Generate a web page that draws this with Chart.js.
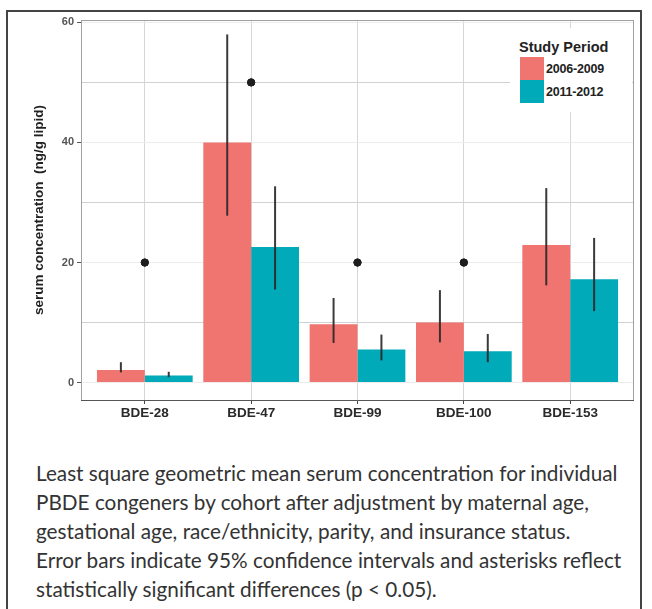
<!DOCTYPE html>
<html><head><meta charset="utf-8">
<script src="https://cdn.jsdelivr.net/npm/chart.js@4.4.1/dist/chart.umd.min.js"></script>
<style>
html,body{margin:0;padding:0;background:#fff;}
body{width:652px;height:609px;position:relative;overflow:hidden;}
#frame{position:absolute;left:6px;top:10px;width:636px;height:620px;border-top:2px solid #444;border-left:2px solid #444;border-right:2px solid #444;box-sizing:border-box;}
#wrap{position:absolute;left:0;top:0;width:652px;height:430px;}
#legend{position:absolute;left:510px;top:28px;width:122px;height:84px;background:#fff;font-family:"Liberation Sans",Arial,sans-serif;font-weight:bold;color:#222;}
#legend .t{position:absolute;left:9px;top:11px;font-size:14.5px;line-height:16px;white-space:nowrap;}
#legend .sw{position:absolute;left:10px;width:24px;height:23px;}
#legend .lb{position:absolute;left:36px;font-size:12.5px;line-height:14px;white-space:nowrap;letter-spacing:-0.2px;}
#caption{position:absolute;left:36px;top:459px;font-family:Lato,"Open Sans",sans-serif;color:#333;font-size:19px;line-height:29px;white-space:nowrap;}
</style></head>
<body>
<div id="frame"></div>
<div id="wrap"><canvas id="c"></canvas></div>
<div id="legend"></div>
<div id="caption"></div>
<script>
const categories = ['BDE-28','BDE-47','BDE-99','BDE-100','BDE-153'];
const seriesNames = ['2006-2009','2011-2012'];
const mean0609 = [2.1, 40.0, 9.7, 10.0, 22.9];
const lo0609   = [1.7, 27.8, 6.6, 6.7, 16.2];
const hi0609   = [3.4, 58.0, 14.1, 15.4, 32.4];
const mean1112 = [1.2, 22.6, 5.5, 5.2, 17.2];
const lo1112   = [0.9, 15.5, 3.7, 3.4, 11.9];
const hi1112   = [1.8, 32.7, 8.0, 8.1, 24.1];
const sigMarks = [20, 50, 20, 20, null];
const yTicks = [0, 10, 20, 30, 40, 50, 60];
const yLabelTicks = [0, 20, 40, 60];
const legendTitle = 'Study Period';
const yTitle = 'serum concentration  (ng/g lipid)';
const captionLines = [
 'Least square geometric mean serum concentration for individual',
 'PBDE congeners by cohort after adjustment by maternal age,',
 'gestational age, race/ethnicity, parity, and insurance status.',
 'Error bars indicate 95% confidence intervals and asterisks reflect',
 'statistically significant differences (p < 0.05).'
];
const colors = ['#F07571', '#00AAB8'];

// legend
const lg = document.getElementById('legend');
lg.innerHTML = '<div class="t">'+legendTitle+'</div>' +
  seriesNames.map((n,i)=>'<div class="sw" style="top:'+(29+i*23)+'px;background:'+colors[i]+'"></div>'+
  '<div class="lb" style="top:'+(34+i*23)+'px">'+n+'</div>').join('');

// caption
const cap = document.getElementById('caption');
cap.innerHTML = captionLines.map(l=>l.replace(/&/g,'&amp;').replace(/</g,'&lt;')).join('<br>');
(function(){
  const m = document.createElement('canvas').getContext('2d');
  m.font = '19px Lato';
  const w = m.measureText(captionLines[0]).width;
  if (w > 0) cap.style.fontSize = (19 * 582 / w).toFixed(2) + 'px';
})();

const errorBars = {
  id: 'errorBars',
  afterDatasetsDraw(chart){
    const ctx = chart.ctx, y = chart.scales.y;
    [[0, lo0609, hi0609], [1, lo1112, hi1112]].forEach(([di, lo, hi]) => {
      chart.getDatasetMeta(di).data.forEach((bar, i) => {
        ctx.save();
        ctx.strokeStyle = 'rgba(45,40,40,0.92)';
        ctx.lineWidth = 2;
        ctx.beginPath();
        ctx.moveTo(bar.x, y.getPixelForValue(lo[i]));
        ctx.lineTo(bar.x, y.getPixelForValue(hi[i]));
        ctx.stroke();
        ctx.restore();
      });
    });
    const meta = chart.getDatasetMeta(2);
    meta.data.forEach(p => { if (!p.skip) p.draw(ctx); });
  }
};
const panel = {
  id: 'panel',
  afterDraw(chart){
    const {ctx, chartArea: a} = chart;
    ctx.save();
    ctx.strokeStyle = '#a0a0a0'; ctx.lineWidth = 1;
    ctx.strokeRect(a.left + 0.5, a.top + 0.5, a.right - a.left - 1, a.bottom - a.top);
    ctx.strokeStyle = '#555';
    ctx.beginPath(); ctx.moveTo(a.left, a.bottom + 0.5); ctx.lineTo(a.right, a.bottom + 0.5); ctx.stroke();
    ctx.restore();
  }
};

new Chart(document.getElementById('c'), {
  type: 'bar',
  data: {
    datasets: [
      { label: seriesNames[0], data: mean0609.map((v,i)=>({x:i, y:v})), backgroundColor: colors[0],
        categoryPercentage: 0.9, barPercentage: 1.0, order: 2 },
      { label: seriesNames[1], data: mean1112.map((v,i)=>({x:i, y:v})), backgroundColor: colors[1],
        categoryPercentage: 0.9, barPercentage: 1.0, order: 2 },
      { type: 'scatter', label: 'significant', data: sigMarks.map((v,i)=>({x:i, y:v})).filter(p=>p.y!==null),
        pointStyle: 'circle', radius: 3.6, backgroundColor: '#1e1e1e', borderColor: '#1e1e1e', borderWidth: 1, order: 1 }
    ]
  },
  options: {
    responsive: true, maintainAspectRatio: false, animation: false, devicePixelRatio: 1,
    layout: { padding: { left: 30, right: 18, top: 20, bottom: 6 } },
    plugins: { legend: { display: false }, tooltip: { enabled: false } },
    scales: {
      x: {
        type: 'linear', min: -0.6, max: 4.6, offset: false,
        afterBuildTicks: s => { s.ticks = categories.map((c,i)=>({value:i})); },
        afterFit: s => { s.height = 24; },
        ticks: { callback: v => categories[v], color: '#2a2a2a', padding: 1, maxRotation: 0, autoSkip: false,
                 font: { family: '"Liberation Sans", Arial, sans-serif', size: 13.5, weight: 'bold' } },
        grid: { offset: false, color: '#d6d6d6', tickColor: '#444', tickLength: 4, lineWidth: 1 },
        border: { display: false }
      },
      y: {
        min: -2.9, max: 60.4,
        afterBuildTicks: s => { s.ticks = yTicks.map(v=>({value:v})); },
        afterFit: s => { s.width = 51; },
        ticks: { callback: v => yLabelTicks.includes(v) ? String(v) : '', color: '#555', padding: 3,
                 font: { family: '"Liberation Sans", Arial, sans-serif', size: 11, weight: 'bold' } },
        grid: { color: c => (c.tick && c.tick.value % 20 === 0) ? '#ececec' : '#d2d2d2',
                tickColor: c => (c.tick && c.tick.value % 20 === 0) ? '#555' : 'rgba(0,0,0,0)', tickLength: 4 },
        border: { display: false },
        title: { display: true, text: yTitle, color: '#222', padding: { top: 1, bottom: 0 },
                 font: { family: '"Liberation Sans", Arial, sans-serif', size: 13.5, weight: 'bold' } }
      }
    }
  },
  plugins: [errorBars, panel]
});
</script>
</body></html>
